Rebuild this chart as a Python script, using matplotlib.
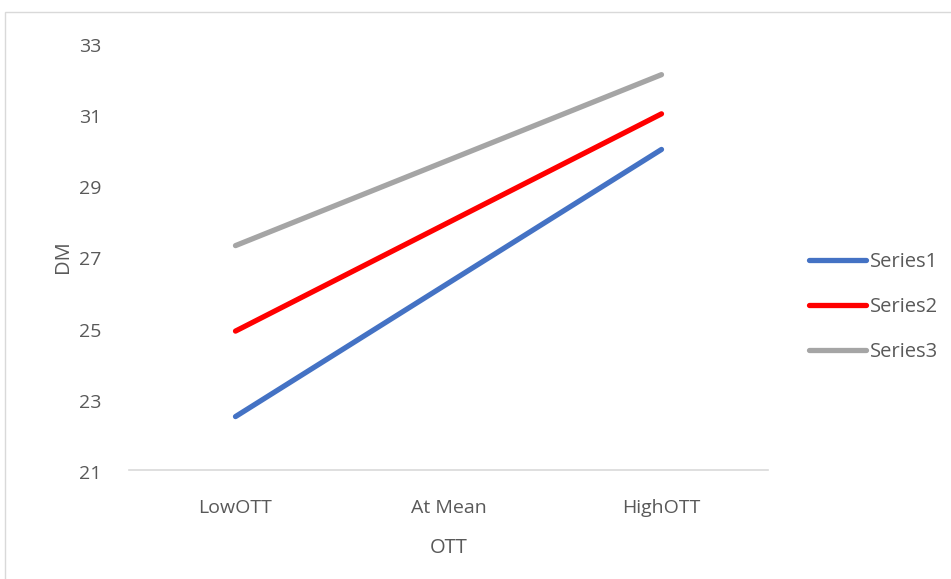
import matplotlib
matplotlib.use("Agg")
import matplotlib.pyplot as plt
from matplotlib.patches import Rectangle
from matplotlib.transforms import ScaledTranslation

categories = ["LowOTT", "At Mean", "HighOTT"]
series_names = ["Series1", "Series2", "Series3"]
series1 = [22.5, 26.25, 30.0]
series2 = [24.9, 27.95, 31.0]
series3 = [27.3, 29.7, 32.1]
yticks = [21, 23, 25, 27, 29, 31, 33]
colors = ["#4472C4", "#FF0000", "#A5A5A5"]

plt.rcParams['font.family'] = ['Open Sans', 'DejaVu Sans']
txt = "#595959"

fig = plt.figure(figsize=(9.51, 5.79), dpi=100)
fig.patches.append(Rectangle((5/951, -0.1), 1.2, 1.1 - 12/579, transform=fig.transFigure,
                             fill=False, edgecolor="#D9D9D9", linewidth=1.0))
ax = fig.add_axes([129/951, 1-470/579, (768-129)/951, (470-42.6)/579])

x = list(range(len(categories)))
for vals, c, n in zip([series1, series2, series3], colors, series_names):
    ax.plot(x, vals, color=c, linewidth=3.8, solid_capstyle="round", label=n)

ax.set_xlim(-0.5, 2.5)
ax.set_ylim(21, 33)
ax.set_yticks(yticks)
ax.set_xticks(x)
ax.set_xticklabels(categories)
for s in ["top", "right", "left"]:
    ax.spines[s].set_visible(False)
ax.spines["bottom"].set_color("#D9D9D9")
ax.spines["bottom"].set_linewidth(1.2)
ax.tick_params(axis="both", length=0, labelsize=14, labelcolor=txt)
ax.tick_params(axis="x", pad=21)
ax.tick_params(axis="y", pad=20)
offset = ScaledTranslation(0, -4/100, fig.dpi_scale_trans)
for lbl in ax.get_yticklabels():
    lbl.set_verticalalignment("center")
    lbl.set_transform(lbl.get_transform() + offset)
ax.set_ylabel("DM", fontsize=14.5, color=txt, labelpad=4)
ax.set_xlabel("OTT", fontsize=14.5, color=txt, labelpad=15)

leg = ax.legend(loc="center left", bbox_to_anchor=(1.036, 0.382), frameon=False,
                fontsize=14.5, labelcolor=txt, handlelength=2.8, handletextpad=0.2,
                labelspacing=1.25)

fig.savefig("out.png", dpi=100)
